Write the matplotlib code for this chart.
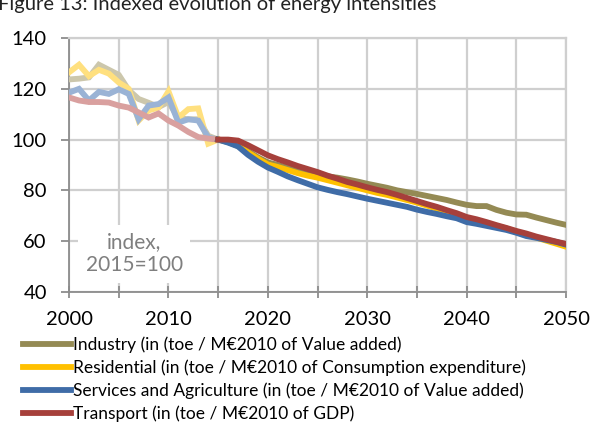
import numpy as np
import matplotlib.pyplot as plt
from matplotlib.ticker import MultipleLocator

plt.rcParams['font.family'] = ['Lato', 'DejaVu Sans']

# historical values 2000-2015 (faded) and projections 2015-2050 (dark)
years_hist = list(range(2000, 2016))
years_proj = list(range(2015, 2051))

industry_hist = [123.7, 124, 124.5, 129.5, 127.5, 125.5, 119.5, 116, 114.5, 112.8,
                 114.8, 108.5, 108, 108, 101.5, 100]
residential_hist = [126.5, 129.5, 125, 127.5, 126, 122.5, 120, 107.5, 111.5, 112.6,
                    119, 108.7, 112, 112.3, 98.4, 100]
services_hist = [118.5, 120, 115.4, 118.8, 118, 119.8, 118, 108, 113.4, 114,
                 116.6, 106.7, 108, 107.5, 100.8, 100]
transport_hist = [116.6, 115.4, 114.8, 114.8, 114.6, 113.4, 112.6, 110.7, 108.7, 110.3,
                  107.5, 105.5, 103, 101, 100.4, 100]

industry_proj = [100, 99, 97.5, 95.5, 93, 91, 90, 89, 88, 87,
                 86.2, 85.5, 85, 84.3, 83.5, 82.6, 81.8, 81, 80, 79.3,
                 78.6, 77.8, 77, 76.2, 75.2, 74.3, 73.8, 73.8, 72.3, 71.2,
                 70.5, 70.4, 69.3, 68.3, 67.3, 66.4]
residential_proj = [100, 99.3, 97.5, 95, 92.5, 90.2, 89.2, 88, 86.8, 85.8,
                    85, 84, 83, 82, 81, 80, 79, 78.2, 77.2, 76.2,
                    75.2, 74, 72.8, 71.6, 70.4, 69, 68, 67, 66, 65,
                    63.8, 62.6, 61.4, 60.2, 59, 57.8]
services_proj = [100, 98.8, 97.3, 94, 91.3, 89, 87.3, 85.5, 84, 82.6,
                 81.2, 80.2, 79.3, 78.5, 77.6, 76.7, 75.9, 75.1, 74.3, 73.5,
                 72.4, 71.5, 70.7, 69.8, 69, 67.5, 66.8, 66, 65.2, 64.4,
                 63.3, 62, 61.3, 60.5, 59.7, 58.6]
transport_proj = [100, 100, 99.6, 97.8, 95.8, 93.8, 92.3, 91, 89.6, 88.4,
                  87.2, 85.8, 84.6, 83.3, 82.3, 81.2, 80.2, 79.3, 78.2, 77,
                  75.8, 74.6, 73.5, 72.2, 71, 69.5, 68.6, 67.5, 66.3, 65.2,
                  64, 63, 61.8, 60.8, 59.8, 58.9]

labels = ['Industry (in (toe / M€2010 of Value added)',
          'Residential (in (toe / M€2010 of Consumption expenditure)',
          'Services and Agriculture (in (toe / M€2010 of Value added)',
          'Transport (in (toe / M€2010 of GDP)']
dark = ['#948a54', '#ffc000', '#3f6ca7', '#a6403b']
faded = ['#ccc7ac', '#ffe07f', '#9ab3d5', '#d9a09f']

hist = [industry_hist, residential_hist, services_hist, transport_hist]
proj = [industry_proj, residential_proj, services_proj, transport_proj]

fig = plt.figure(figsize=(6.06, 4.23), dpi=100)
ax = fig.add_axes([0.114, 0.31, 0.82, 0.60])

lw = 4.2
for h, c in zip(hist, faded):
    ax.plot(years_hist, h, color=c, lw=lw, solid_joinstyle='miter', zorder=3)
handles = []
for p, c, lab in zip(proj, dark, labels):
    line, = ax.plot(years_proj, p, color=c, lw=lw, solid_joinstyle='miter', zorder=4, label=lab)
    handles.append(line)

ax.set_xlim(2000, 2050)
ax.set_ylim(40, 140)
ax.xaxis.set_major_locator(MultipleLocator(10))
ax.xaxis.set_minor_locator(MultipleLocator(5))
ax.yaxis.set_major_locator(MultipleLocator(20))
ax.grid(True, which='both', axis='x', color='#cfcfcf', lw=1.6)
ax.grid(True, which='major', axis='y', color='#cfcfcf', lw=1.6)
ax.set_axisbelow(True)

for s in ['top', 'right']:
    ax.spines[s].set_color('#cfcfcf')
    ax.spines[s].set_linewidth(1.6)
for s in ['left', 'bottom']:
    ax.spines[s].set_color('#8c8c8c')
    ax.spines[s].set_linewidth(1.3)

ax.tick_params(axis='x', which='both', direction='inout', length=9, width=1.3,
               color='#8c8c8c', labelsize=14.5, pad=9)
ax.tick_params(axis='y', direction='out', length=6, width=1.3,
               color='#8c8c8c', labelsize=14.5, pad=10)

ax.text(0.131, 0.15, 'index,\n2015=100', transform=ax.transAxes, ha='center', va='center',
        fontsize=15, color='#7f7f7f', linespacing=1.2, zorder=5,
        bbox=dict(facecolor='white', edgecolor='none', boxstyle='square,pad=0.35'))

fig.text(-0.003, 0.976, 'Figure 13: Indexed evolution of energy intensities',
         fontsize=14.5, va='baseline', ha='left', color='#222222')

fig.legend(handles=handles, loc='upper left', bbox_to_anchor=(0.038, 0.205),
           frameon=False, fontsize=12.5, handlelength=2.75, handletextpad=0.15,
           labelspacing=0.38, borderaxespad=0, borderpad=0)

fig.savefig('out.png', dpi=100)
